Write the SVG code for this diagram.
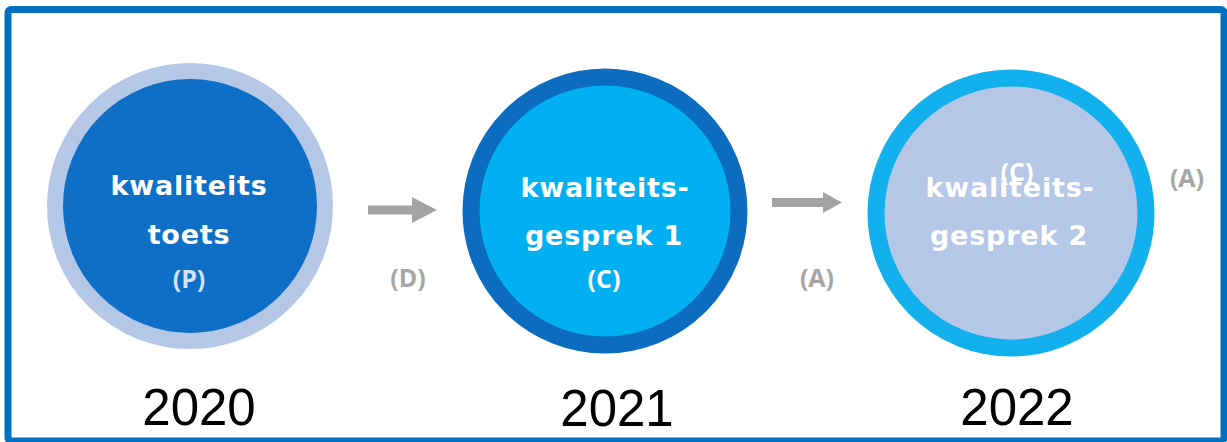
<svg xmlns="http://www.w3.org/2000/svg" width="1227" height="442" viewBox="0 0 1227 442">
  <style>
    .lbl { font-family: "DejaVu Sans", "Liberation Sans", sans-serif; font-weight: bold; font-size: 27px; fill: #ffffff; text-anchor: middle; letter-spacing: 0.8px; }
    .tag { font-family: "Open Sans", "Liberation Sans", sans-serif; font-weight: 700; font-size: 25px; text-anchor: middle; }
    .gray { fill: #a6a6a6; }
    .year { font-family: "Liberation Sans", Arial, sans-serif; font-size: 51px; fill: #000000; text-anchor: middle; }
    .arrow { fill: #a3a3a3; }
  </style>
  <rect x="0" y="0" width="1227" height="442" fill="#ffffff"/>
  <rect id="frame" x="8" y="9.5" width="1216" height="431.5" rx="3" fill="none" stroke="#0070c0" stroke-width="7"/>

  <g id="node-2020">
    <circle cx="190" cy="206" r="135" fill="#0f6fc6" stroke="#b4c7e7" stroke-width="16"/>
    <text class="lbl" x="189" y="195">kwaliteits</text>
    <text class="lbl" x="189" y="244">toets</text>
    <text class="tag" x="189" y="288" fill="#d6e2f5">(P)</text>
    <text class="year" x="199" y="425">2020</text>
  </g>

  <g id="node-2021">
    <circle cx="605" cy="211" r="134" fill="#00b0f0" stroke="#0b6cc0" stroke-width="17"/>
    <text class="lbl" x="605" y="197">kwaliteits-</text>
    <text class="lbl" x="604" y="245">gesprek 1</text>
    <text class="tag" x="604" y="288" fill="#ffffff">(C)</text>
    <text class="year" x="617" y="426">2021</text>
  </g>

  <g id="node-2022">
    <circle cx="1011" cy="213" r="135" fill="#b4c7e7" stroke="#12b0ec" stroke-width="17"/>
    <text class="lbl" x="1010" y="197">kwaliteits-</text>
    <text class="lbl" x="1009" y="245">gesprek 2</text>
    <text class="tag" x="1017" y="181" fill="#ffffff">(C)</text>
    <text class="tag gray" x="1187" y="187">(A)</text>
    <text class="year" x="1017" y="425">2022</text>
  </g>

  <g id="connectors">
    <polygon class="arrow" points="368,205.5 412,205.5 412,197 437,210 412,223 412,214.5 368,214.5"/>
    <text class="tag gray" x="408" y="287">(D)</text>
    <polygon class="arrow" points="772,198 823,198 823,192 842,202.5 823,213 823,207 772,207"/>
    <text class="tag gray" x="817" y="287">(A)</text>
  </g>
</svg>
